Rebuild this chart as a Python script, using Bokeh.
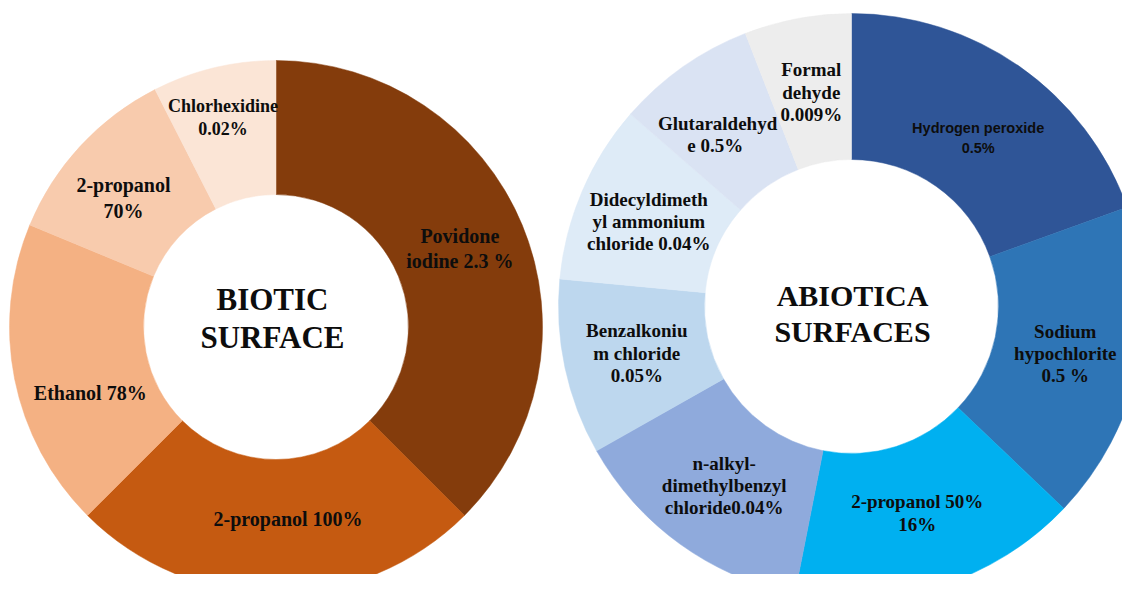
import numpy as np
from bokeh.plotting import figure
from bokeh.models import ColumnDataSource, Range1d
from bokeh.core.properties import value
from bokeh.embed import file_html
from bokeh.resources import INLINE

# ---------------- data ----------------
biotic_labels = ["Povidone\niodine 2.3 %", "2-propanol 100%", "Ethanol 78%",
                 "2-propanol\n70%", "Chlorhexidine\n0.02%"]
biotic_shares = [37.5, 25.0, 18.75, 11.25, 7.5]
biotic_colors = ["#843C0C", "#C55A11", "#F4B183", "#F8CBAD", "#FBE5D6"]

abiotic_labels = ["Hydrogen peroxide\n0.5%", "Sodium\nhypochlorite\n0.5 %",
                  "2-propanol 50%\n16%", "n-alkyl-\ndimethylbenzyl\nchloride0.04%",
                  "Benzalkoniu\nm chloride\n0.05%", "Didecyldimeth\nyl ammonium\nchloride 0.04%",
                  "Glutaraldehyd\ne  0.5%", "Formal\ndehyde\n0.009%"]
abiotic_shares = [19.5, 17.6, 16.0, 13.7, 9.7, 9.9, 7.7, 5.9]
abiotic_colors = ["#2F5597", "#2E75B6", "#00B0F0", "#8FAADC",
                  "#BDD7EE", "#DEEBF7", "#DAE3F3", "#EDEDED"]

titles = ["BIOTIC\nSURFACE", "ABIOTICA\nSURFACES"]

# ---------------- styles / label placement ----------------
SERIF = "Liberation Serif"
SANS = "Liberation Sans"
biotic_style = dict(
    fonts=[SERIF] * 5,
    sizes=["20px", "20px", "20px", "20px", "18px"],
    lh=[1.15] * 5,
    rfac=[0.75, 0.72, 0.74, 0.75, 0.81],      # radial position (x outer radius)
    dang=[-0.6, -3.6, -8.4, -2.5, -0.7],      # angular nudge, degrees
)
abiotic_style = dict(
    fonts=[SANS] + [SERIF] * 7,
    sizes=["14.5px"] + ["19px"] * 7,
    lh=[1.25] + [1.06] * 7,
    rfac=[0.72, 0.747, 0.74, 0.75, 0.75, 0.75, 0.744, 0.744],
    dang=[1.8, 0.5, 0.0, -0.4, -0.2, -0.5, -2.8, 0.0],
)

p = figure(width=1122, height=574, output_backend="svg", toolbar_location=None,
           x_range=Range1d(0, 1122), y_range=Range1d(16, 590), min_border=0)
p.axis.visible = False
p.grid.visible = False
p.outline_line_color = None
p.background_fill_color = "white"
p.border_fill_color = "white"


def donut(cx, cy, r_in, r_out, shares, colors, labels, st, title, tx, ty, tsize):
    s = np.array(shares, dtype=float)
    frac = s / s.sum()
    ends = np.cumsum(frac) * 2 * np.pi
    starts = ends - frac * 2 * np.pi
    src = ColumnDataSource(dict(start=np.pi / 2 - starts, end=np.pi / 2 - ends,
                                color=colors))
    p.annular_wedge(x=cx, y=cy, inner_radius=r_in, outer_radius=r_out,
                    start_angle="start", end_angle="end", direction="clock",
                    fill_color="color", line_color="color", line_width=0.5,
                    source=src)
    mid = (starts + ends) / 2 + np.radians(st["dang"])
    lr = np.array(st["rfac"]) * r_out
    lsrc = ColumnDataSource(dict(x=cx + lr * np.sin(mid), y=cy + lr * np.cos(mid),
                                 text=labels, font=st["fonts"], size=st["sizes"],
                                 lh=st["lh"]))
    p.text(x="x", y="y", text="text", source=lsrc, text_font="font",
           text_font_size="size", text_font_style="bold", text_color="#0d0d0d",
           text_align="center", text_baseline="middle", text_line_height="lh")
    p.text(x=[tx], y=[ty], text=[title], text_font=value(SERIF),
           text_font_size=tsize, text_font_style="bold", text_color="#0d0d0d",
           text_align="center", text_baseline="middle", text_line_height=1.1)


donut(275.5, 263.5, 132.5, 266.5, biotic_shares, biotic_colors, biotic_labels,
      biotic_style, titles[0], 272, 272, "31px")
donut(851, 284, 147, 293, abiotic_shares, abiotic_colors, abiotic_labels,
      abiotic_style, titles[1], 852, 277, "30px")

open("out.html", "w").write(file_html(p, INLINE))
